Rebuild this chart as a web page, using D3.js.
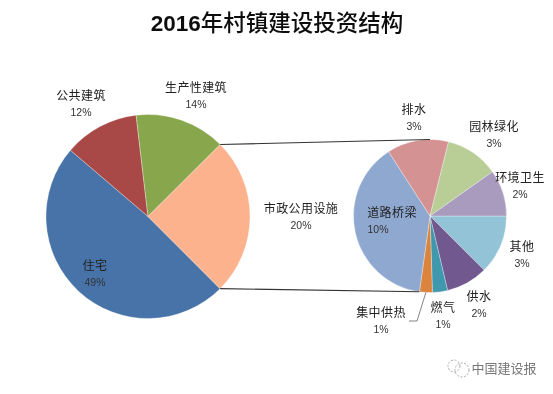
<!DOCTYPE html>
<html>
<head>
<meta charset="utf-8">
<script src="https://cdn.jsdelivr.net/npm/d3@7/dist/d3.min.js"></script>
<style>
html, body { margin: 0; padding: 0; background: #fff; }
svg { display: block; }
text { font-family: "Noto Sans CJK SC", sans-serif; fill: #222; text-anchor: middle; }
</style>
</head>
<body>
<svg width="553" height="394"></svg>
<script>
var titleYear = "2016";
var titleText = "年村镇建设投资结构";

// main pie, clockwise from the lower right edge
var mainNames = ["住宅", "公共建筑", "生产性建筑", "市政公用设施"];
var mainLabels = ["49%", "12%", "14%", "20%"];
var mainShares = [48.8, 11.9, 14.4, 25];
var mainColors = ["#4673a8", "#a84a47", "#88a74e", "#fcb28c"];

// detail pie, clockwise from 3 o'clock
var subNames = ["其他", "供水", "燃气", "集中供热", "道路桥梁", "排水", "园林绿化", "环境卫生"];
var subLabels = ["3%", "2%", "1%", "1%", "10%", "3%", "3%", "2%"];
var subShares = [12.5, 8.8, 3.2, 2.7, 38.7, 13, 11.3, 9.8];
var subColors = ["#92c3d6", "#71588f", "#4198af", "#db843d", "#8fa8d0", "#d49392", "#b9cd97", "#a99bbd"];

var width = 553;
var height = 394;
var deg = Math.PI / 180;

var svg = d3.select("svg");

var blur = svg.append("defs").append("filter")
    .attr("id", "soft")
    .attr("x", 0).attr("y", 0)
    .attr("width", 1).attr("height", 1)
    .attr("filterUnits", "objectBoundingBox");
blur.append("feGaussianBlur").attr("stdDeviation", 0.4);

var chart = svg.append("g").attr("filter", "url(#soft)");
chart.append("rect").attr("width", width).attr("height", height).attr("fill", "#fff");

// title
var title = chart.append("text")
    .attr("x", 277).attr("y", 31)
    .style("font-size", "22.5px")
    .style("fill", "#111");
title.append("tspan")
    .style("font-family", "'Liberation Sans', sans-serif")
    .style("font-weight", "bold")
    .text(titleYear);
title.append("tspan")
    .style("font-weight", 500)
    .text(titleText);

function drawPie(cx, cy, r, shares, colors, startDeg) {
    var pie = d3.pie().sort(null)
        .startAngle(startDeg * deg)
        .endAngle((startDeg + 360) * deg);
    var arc = d3.arc().innerRadius(0).outerRadius(r);
    var g = chart.append("g").attr("transform", "translate(" + cx + "," + cy + ")");
    g.selectAll("path")
        .data(pie(shares))
        .enter()
        .append("path")
        .attr("d", arc)
        .attr("fill", function(d, i) { return colors[i]; })
        .attr("stroke", "#fff")
        .attr("stroke-opacity", 0.5)
        .attr("stroke-width", 0.6);
    return pie(shares);
}

function pointOn(cx, cy, r, angle) {
    return [cx + r * Math.sin(angle), cy - r * Math.cos(angle)];
}

var mainC = [148, 216.5], mainR = 102;
var subC = [430, 216], subR = 76.5;

var mainArcs = drawPie(mainC[0], mainC[1], mainR, mainShares, mainColors, 135);
var subArcs = drawPie(subC[0], subC[1], subR, subShares, subColors, 90);

// connector lines between the two pies
var peach = mainArcs[3];
var road = subArcs[4];
var links = [
    [pointOn(mainC[0], mainC[1], mainR, peach.startAngle), pointOn(subC[0], subC[1], subR, 0)],
    [pointOn(mainC[0], mainC[1], mainR, peach.endAngle), pointOn(subC[0], subC[1], subR, road.startAngle)]
];
chart.selectAll("line.link")
    .data(links)
    .enter()
    .append("line")
    .attr("class", "link")
    .attr("x1", function(d) { return d[0][0]; })
    .attr("y1", function(d) { return d[0][1]; })
    .attr("x2", function(d) { return d[1][0]; })
    .attr("y2", function(d) { return d[1][1]; })
    .attr("stroke", "#333")
    .attr("stroke-width", 1.1);

// leader of 集中供热
var heat = subArcs[3];
var heatPt = pointOn(subC[0], subC[1], subR, (heat.startAngle + heat.endAngle) / 2);
chart.append("path")
    .attr("d", d3.line()([heatPt, [417, 321], [409, 321]]))
    .attr("fill", "none")
    .attr("stroke", "#666")
    .attr("stroke-width", 0.8);

// label centres, same order as the name arrays
var mainLabelPos = [[95, 266], [81, 96], [196, 88], [301, 209]];
var subLabelPos = [[522, 247], [479, 297], [443, 308], [381, 313], [392, 213], [414, 110], [494, 127], [520, 178]];

function drawLabels(names, values, pos) {
    names.forEach(function(name, i) {
        chart.append("text")
            .attr("x", pos[i][0]).attr("y", pos[i][1] + 4)
            .style("font-size", "12px")
            .style("letter-spacing", "0.4px")
            .text(name);
        chart.append("text")
            .attr("x", name === "道路桥梁" ? 378 : pos[i][0])
            .attr("y", pos[i][1] + 20)
            .style("font-family", "'Liberation Sans', sans-serif")
            .style("font-size", "10.5px")
            .style("fill", "#333")
            .text(values[i]);
    });
}
drawLabels(mainNames, mainLabels, mainLabelPos);
drawLabels(subNames, subLabels, subLabelPos);

// watermark
var mark = chart.append("g").attr("transform", "translate(454,367)")
    .attr("fill", "none").attr("stroke", "#aaa").attr("stroke-width", 1)
    .attr("stroke-dasharray", "2 1.5");
mark.append("circle").attr("r", 6).attr("cx", 0).attr("cy", -1);
mark.append("circle").attr("r", 7).attr("cx", 8).attr("cy", 3);

chart.append("text")
    .attr("x", 504).attr("y", 373)
    .style("font-size", "13px")
    .style("fill", "#777")
    .text("中国建设报");
</script>
</body>
</html>
